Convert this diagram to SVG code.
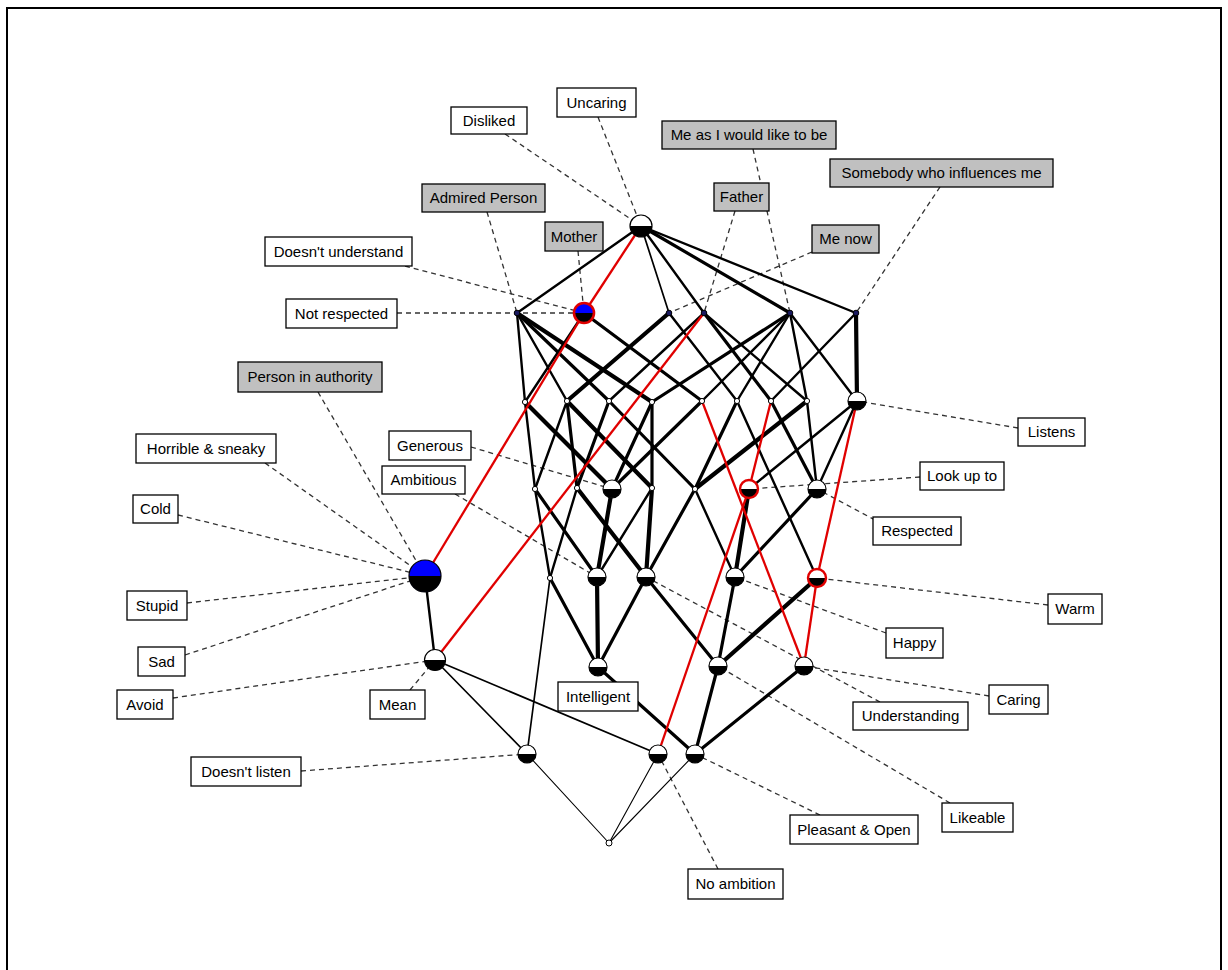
<svg xmlns="http://www.w3.org/2000/svg" width="1228" height="970" viewBox="0 0 1228 970">
<style>
.bg{fill:#fff}
.frame{fill:none;stroke:#000;stroke-width:2}
.d{stroke:#333;stroke-width:1.3;stroke-dasharray:5 4;fill:none}
.k{stroke:#000;fill:none;stroke-linecap:round}
.w1{stroke-width:1.1}
.w15{stroke-width:1.7}
.w2{stroke-width:2.4}
.w3{stroke-width:3.2}
.w4{stroke-width:4.2}
.r{stroke:#e00000;stroke-width:2.3;fill:none}
.lb rect{fill:#fff;stroke:#000;stroke-width:1.3}
.lb.g rect{fill:#c0c0c0}
.lb text{font-family:"Liberation Sans",Arial,sans-serif;font-size:15px;fill:#000;text-anchor:middle}
.sm{fill:#fff;stroke:#000;stroke-width:1}
.nv{fill:#1a1a60;stroke:#000;stroke-width:1}
</style>
<defs>
<g id="h9"><circle r="9" fill="#fff"/><path d="M-9 0A9 9 0 0 0 9 0Z" fill="#000"/><circle r="9" fill="none" stroke="#000" stroke-width="1.2"/></g>
<g id="h9r"><circle r="9" fill="#fff"/><path d="M-9 0A9 9 0 0 0 9 0Z" fill="#000"/><circle r="9" fill="none" stroke="#e00000" stroke-width="2.4"/></g>
</defs>
<rect class="bg" width="1228" height="970"/>
<rect class="frame" x="7" y="8" width="1214" height="990"/>

<g id="label-lines">
<line class="d" x1="505" y1="134" x2="641" y2="226"/>
<line class="d" x1="598" y1="117" x2="641" y2="226"/>
<line class="d" x1="753" y1="149" x2="790" y2="313"/>
<line class="d" x1="735" y1="211" x2="704" y2="313"/>
<line class="d" x1="940" y1="187" x2="856" y2="313"/>
<line class="d" x1="812" y1="252" x2="669" y2="313"/>
<line class="d" x1="487" y1="212" x2="517" y2="313"/>
<line class="d" x1="578" y1="251" x2="584" y2="313"/>
<line class="d" x1="405" y1="266" x2="584" y2="313"/>
<line class="d" x1="397" y1="313" x2="584" y2="313"/>
<line class="d" x1="318" y1="392" x2="425" y2="576"/>
<line class="d" x1="265" y1="463" x2="425" y2="576"/>
<line class="d" x1="178" y1="515" x2="425" y2="576"/>
<line class="d" x1="187" y1="603" x2="425" y2="576"/>
<line class="d" x1="185" y1="655" x2="425" y2="576"/>
<line class="d" x1="173" y1="698" x2="435" y2="660"/>
<line class="d" x1="410" y1="690" x2="435" y2="660"/>
<line class="d" x1="471" y1="447" x2="612" y2="489"/>
<line class="d" x1="455" y1="494" x2="597" y2="577"/>
<line class="d" x1="1018" y1="428" x2="857" y2="401"/>
<line class="d" x1="920" y1="477" x2="749" y2="489"/>
<line class="d" x1="875" y1="520" x2="817" y2="489"/>
<line class="d" x1="1048" y1="605" x2="817" y2="578"/>
<line class="d" x1="886" y1="633" x2="735" y2="577"/>
<line class="d" x1="989" y1="696" x2="804" y2="666"/>
<line class="d" x1="880" y1="702" x2="646" y2="577"/>
<line class="d" x1="950" y1="803" x2="718" y2="666"/>
<line class="d" x1="820" y1="815" x2="695" y2="754"/>
<line class="d" x1="718" y1="869" x2="658" y2="754"/>
<line class="d" x1="301" y1="771" x2="527" y2="754"/>
</g>

<g id="edges">
<!-- top to row 1 -->
<line class="k w2" x1="641" y1="226" x2="517" y2="313"/>
<line class="k w15" x1="641" y1="226" x2="669" y2="313"/>
<line class="k w2" x1="641" y1="226" x2="704" y2="313"/>
<line class="k w3" x1="641" y1="226" x2="790" y2="313"/>
<line class="k w2" x1="641" y1="226" x2="856" y2="313"/>
<!-- row 1 to row 2 -->
<line class="k w2" x1="517" y1="313" x2="525" y2="402"/>
<line class="k w2" x1="517" y1="313" x2="567" y2="401"/>
<line class="k w3" x1="517" y1="313" x2="609" y2="401"/>
<line class="k w4" x1="517" y1="313" x2="652" y2="402"/>
<line class="k w2" x1="584" y1="313" x2="525" y2="402"/>
<line class="k w3" x1="584" y1="313" x2="702" y2="401"/>
<line class="k w4" x1="669" y1="313" x2="567" y2="401"/>
<line class="k w2" x1="669" y1="313" x2="737" y2="401"/>
<line class="k w2" x1="704" y1="313" x2="609" y2="401"/>
<line class="k w3" x1="704" y1="313" x2="771" y2="401"/>
<line class="k w2" x1="704" y1="313" x2="807" y2="401"/>
<line class="k w3" x1="790" y1="313" x2="652" y2="402"/>
<line class="k w2" x1="790" y1="313" x2="702" y2="401"/>
<line class="k w2" x1="790" y1="313" x2="737" y2="401"/>
<line class="k w2" x1="790" y1="313" x2="807" y2="401"/>
<line class="k w2" x1="790" y1="313" x2="857" y2="401"/>
<line class="k w4" x1="856" y1="313" x2="857" y2="401"/>
<line class="k w2" x1="856" y1="313" x2="771" y2="401"/>
<!-- row 2 to row 3 -->
<line class="k w2" x1="525" y1="402" x2="535" y2="489"/>
<line class="k w4" x1="525" y1="402" x2="612" y2="489"/>
<line class="k w2" x1="567" y1="401" x2="535" y2="489"/>
<line class="k w3" x1="567" y1="401" x2="577" y2="488"/>
<line class="k w4" x1="567" y1="401" x2="652" y2="488"/>
<line class="k w3" x1="609" y1="401" x2="577" y2="488"/>
<line class="k w3" x1="609" y1="401" x2="695" y2="489"/>
<line class="k w3" x1="652" y1="402" x2="652" y2="488"/>
<line class="k w3" x1="652" y1="402" x2="612" y2="489"/>
<line class="k w3" x1="702" y1="401" x2="612" y2="489"/>
<line class="k w3" x1="737" y1="401" x2="695" y2="489"/>
<line class="k w2" x1="737" y1="401" x2="817" y2="578"/>
<line class="k w3" x1="771" y1="401" x2="817" y2="489"/>
<line class="k w4" x1="807" y1="401" x2="695" y2="489"/>
<line class="k w2" x1="807" y1="401" x2="817" y2="489"/>
<line class="k w2" x1="857" y1="401" x2="749" y2="489"/>
<line class="k w2" x1="857" y1="401" x2="817" y2="489"/>
<!-- row 3 to row 4 -->
<line class="k w2" x1="535" y1="489" x2="550" y2="578"/>
<line class="k w3" x1="535" y1="489" x2="597" y2="577"/>
<line class="k w2" x1="577" y1="488" x2="550" y2="578"/>
<line class="k w4" x1="577" y1="488" x2="646" y2="577"/>
<line class="k w4" x1="612" y1="489" x2="597" y2="577"/>
<line class="k w2" x1="652" y1="488" x2="597" y2="577"/>
<line class="k w4" x1="652" y1="488" x2="646" y2="577"/>
<line class="k w3" x1="695" y1="489" x2="646" y2="577"/>
<line class="k w2" x1="695" y1="489" x2="735" y2="577"/>
<line class="k w4" x1="749" y1="489" x2="735" y2="577"/>
<line class="k w3" x1="817" y1="489" x2="735" y2="577"/>
<!-- row 4 to row 5 -->
<line class="k w3" x1="550" y1="578" x2="598" y2="667"/>
<line class="k w4" x1="597" y1="577" x2="598" y2="667"/>
<line class="k w3" x1="646" y1="577" x2="598" y2="667"/>
<line class="k w3" x1="646" y1="577" x2="718" y2="666"/>
<line class="k w3" x1="735" y1="577" x2="718" y2="666"/>
<line class="k w4" x1="817" y1="578" x2="718" y2="666"/>
<line class="k w2" x1="425" y1="576" x2="435" y2="660"/>
<!-- lower -->
<line class="k w15" x1="435" y1="660" x2="527" y2="754"/>
<line class="k w15" x1="435" y1="660" x2="658" y2="754"/>
<line class="k w15" x1="550" y1="578" x2="527" y2="754"/>
<line class="k w3" x1="598" y1="667" x2="695" y2="754"/>
<line class="k w3" x1="718" y1="666" x2="695" y2="754"/>
<line class="k w3" x1="804" y1="666" x2="695" y2="754"/>
<line class="k w1" x1="527" y1="754" x2="609" y2="843"/>
<line class="k w1" x1="658" y1="754" x2="609" y2="843"/>
<line class="k w1" x1="695" y1="754" x2="609" y2="843"/>
<!-- red -->
<line class="r" x1="641" y1="226" x2="584" y2="313"/>
<line class="r" x1="584" y1="313" x2="425" y2="576"/>
<line class="r" x1="704" y1="313" x2="435" y2="660"/>
<line class="r" x1="771" y1="401" x2="749" y2="489"/>
<line class="r" x1="749" y1="489" x2="658" y2="754"/>
<line class="r" x1="702" y1="401" x2="804" y2="666"/>
<line class="r" x1="857" y1="401" x2="817" y2="578"/>
<line class="r" x1="817" y1="578" x2="804" y2="666"/>
</g>

<g id="nodes">
<g id="n-top" transform="translate(641 226)"><circle r="11" fill="#fff"/><path d="M-11 0A11 11 0 0 0 11 0Z" fill="#000"/><circle r="11" fill="none" stroke="#000" stroke-width="1.2"/></g>
<circle id="n-admired" class="nv" cx="517" cy="313" r="2.8"/>
<g id="n-mother" transform="translate(584 313)"><circle r="10" fill="#0000ff"/><path d="M-10 0A10 10 0 0 0 10 0Z" fill="#000"/><circle r="10" fill="none" stroke="#e00000" stroke-width="2.6"/></g>
<circle id="n-menow" class="nv" cx="669" cy="313" r="2.8"/>
<circle id="n-father" class="nv" cx="704" cy="313" r="2.8"/>
<circle id="n-meideal" class="nv" cx="790" cy="313" r="2.8"/>
<circle id="n-influence" class="nv" cx="856" cy="313" r="2.8"/>
<circle id="n-a" class="sm" cx="525" cy="402" r="2.6"/>
<circle id="n-b" class="sm" cx="567" cy="401" r="2.6"/>
<circle id="n-c" class="sm" cx="609" cy="401" r="2.6"/>
<circle id="n-d" class="sm" cx="652" cy="402" r="2.6"/>
<circle id="n-e" class="sm" cx="702" cy="401" r="2.6"/>
<circle id="n-k" class="sm" cx="737" cy="401" r="2.6"/>
<circle id="n-f" class="sm" cx="771" cy="401" r="2.6"/>
<circle id="n-g" class="sm" cx="807" cy="401" r="2.6"/>
<use id="n-listens" href="#h9" x="857" y="401"/>
<circle id="n-p" class="sm" cx="535" cy="489" r="2.6"/>
<circle id="n-q" class="sm" cx="577" cy="488" r="2.6"/>
<use id="n-generous" href="#h9" x="612" y="489"/>
<circle id="n-s" class="sm" cx="652" cy="488" r="2.6"/>
<circle id="n-t" class="sm" cx="695" cy="489" r="2.6"/>
<use id="n-lookup" href="#h9r" x="749" y="489"/>
<use id="n-respected" href="#h9" x="817" y="489"/>
<circle id="n-w" class="sm" cx="550" cy="578" r="2.6"/>
<use id="n-ambitious" href="#h9" x="597" y="577"/>
<use id="n-understanding" href="#h9" x="646" y="577"/>
<use id="n-happy" href="#h9" x="735" y="577"/>
<use id="n-warm" href="#h9r" x="817" y="578"/>
<g id="n-authority" transform="translate(425 576)"><circle r="16" fill="#0000ff"/><path d="M-16 0A16 16 0 0 0 16 0Z" fill="#000"/><circle r="16" fill="none" stroke="#000" stroke-width="1.2"/></g>
<g id="n-mean" transform="translate(435 660)"><circle r="10.5" fill="#fff"/><path d="M-10.5 0A10.5 10.5 0 0 0 10.5 0Z" fill="#000"/><circle r="10.5" fill="none" stroke="#000" stroke-width="1.2"/></g>
<use id="n-intelligent" href="#h9" x="598" y="667"/>
<use id="n-likeable" href="#h9" x="718" y="666"/>
<use id="n-caring" href="#h9" x="804" y="666"/>
<use id="n-doesntlisten" href="#h9" x="527" y="754"/>
<use id="n-noambition" href="#h9" x="658" y="754"/>
<use id="n-pleasant" href="#h9" x="695" y="754"/>
<circle id="n-bottom" class="sm" cx="609" cy="843" r="3"/>
</g>

<g id="labels">
<g class="lb"><rect x="557" y="88" width="79" height="29"/><text x="596.5" y="108">Uncaring</text></g>
<g class="lb"><rect x="451" y="107" width="76" height="27"/><text x="489" y="126">Disliked</text></g>
<g class="lb g"><rect x="662" y="121" width="174" height="28"/><text x="749" y="140">Me as I would like to be</text></g>
<g class="lb g"><rect x="714" y="183" width="55" height="28"/><text x="741.5" y="202">Father</text></g>
<g class="lb g"><rect x="830" y="159" width="223" height="28"/><text x="941.5" y="178">Somebody who influences me</text></g>
<g class="lb g"><rect x="422" y="184" width="123" height="28"/><text x="483.5" y="203">Admired Person</text></g>
<g class="lb g"><rect x="545" y="222" width="58" height="29"/><text x="574" y="242">Mother</text></g>
<g class="lb g"><rect x="812" y="225" width="67" height="28"/><text x="845.5" y="244">Me now</text></g>
<g class="lb"><rect x="265" y="237" width="147" height="29"/><text x="338.5" y="257">Doesn't understand</text></g>
<g class="lb"><rect x="286" y="299" width="111" height="29"/><text x="341.5" y="319">Not respected</text></g>
<g class="lb g"><rect x="238" y="362" width="144" height="30"/><text x="310" y="382">Person in authority</text></g>
<g class="lb"><rect x="136" y="434" width="140" height="29"/><text x="206" y="454">Horrible &amp; sneaky</text></g>
<g class="lb"><rect x="133" y="495" width="45" height="28"/><text x="155.5" y="514">Cold</text></g>
<g class="lb"><rect x="389" y="431" width="82" height="29"/><text x="430" y="451">Generous</text></g>
<g class="lb"><rect x="382" y="466" width="83" height="28"/><text x="423.5" y="485">Ambitious</text></g>
<g class="lb"><rect x="1018" y="418" width="67" height="28"/><text x="1051.5" y="437">Listens</text></g>
<g class="lb"><rect x="920" y="462" width="84" height="28"/><text x="962" y="481">Look up to</text></g>
<g class="lb"><rect x="873" y="517" width="88" height="28"/><text x="917" y="536">Respected</text></g>
<g class="lb"><rect x="127" y="591" width="60" height="29"/><text x="157" y="611">Stupid</text></g>
<g class="lb"><rect x="1048" y="594" width="54" height="30"/><text x="1075" y="614">Warm</text></g>
<g class="lb"><rect x="886" y="628" width="57" height="30"/><text x="914.5" y="648">Happy</text></g>
<g class="lb"><rect x="138" y="647" width="47" height="29"/><text x="161.5" y="667">Sad</text></g>
<g class="lb"><rect x="989" y="685" width="59" height="29"/><text x="1018.5" y="705">Caring</text></g>
<g class="lb"><rect x="117" y="690" width="56" height="29"/><text x="145" y="710">Avoid</text></g>
<g class="lb"><rect x="370" y="690" width="55" height="29"/><text x="397.5" y="710">Mean</text></g>
<g class="lb"><rect x="558" y="682" width="80" height="29"/><text x="598" y="702">Intelligent</text></g>
<g class="lb"><rect x="853" y="702" width="115" height="28"/><text x="910.5" y="721">Understanding</text></g>
<g class="lb"><rect x="191" y="757" width="110" height="29"/><text x="246" y="777">Doesn't listen</text></g>
<g class="lb"><rect x="790" y="815" width="128" height="29"/><text x="854" y="835">Pleasant &amp; Open</text></g>
<g class="lb"><rect x="942" y="803" width="71" height="29"/><text x="977.5" y="823">Likeable</text></g>
<g class="lb"><rect x="688" y="869" width="95" height="30"/><text x="735.5" y="889">No ambition</text></g>
</g>
</svg>
